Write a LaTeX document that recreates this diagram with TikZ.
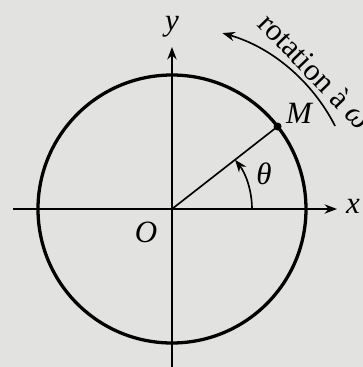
\documentclass[tikz,border=0pt]{standalone}
\usepackage{fontspec}
\setmainfont{Liberation Serif}
\usepackage{tikz}
\usetikzlibrary{positioning,arrows.meta}
\definecolor{papier}{RGB}{226,226,224}

\begin{document}
\begin{tikzpicture}[
  x=0.01928cm, y=0.01928cm,
  axe/.style={line width=0.9pt},
  cercle/.style={line width=1.8pt},
  lbl/.style={font=\fontsize{17}{20}\selectfont\itshape, inner sep=1pt},
  rotlbl/.style={font=\fontsize{17}{20}\selectfont, inner sep=1pt},
  >={Stealth[length=2.4mm, width=1.8mm]}
]
\fill[papier] (-172,-158) rectangle (191,209);
\useasboundingbox (-172,-158) rectangle (191,209);

\coordinate (O) at (0,0);
\coordinate (xmin) at (-159,0);
\coordinate (xmax) at (165,0);
\coordinate (ymin) at (0,-158);
\coordinate (ymax) at (0,162);
\coordinate (M) at (38:134);

\draw[axe,->] (xmin) -- (xmax);
\draw[axe,->] (ymin) -- (ymax);
\draw[cercle] (O) circle (134);
\draw[axe] (O) -- (M);
\fill (M) circle (4);

\draw[axe,->] (80,0) arc (0:38:80);
\draw[axe,->] (27:183) arc (27:74:183);

\node[lbl] (labx) at (181,3) {x};
\node[lbl] (laby) at (0,182) {y};
\node[lbl] (labO) at (-26,-23) {O};
\node[lbl] (labM) at (127,96) {M};
\node[lbl] (labt) at (92,35) {θ};
\node[rotlbl, rotate=-46] (rot) at (44:199) {rotation à \textit{ω}};
\end{tikzpicture}
\end{document}
